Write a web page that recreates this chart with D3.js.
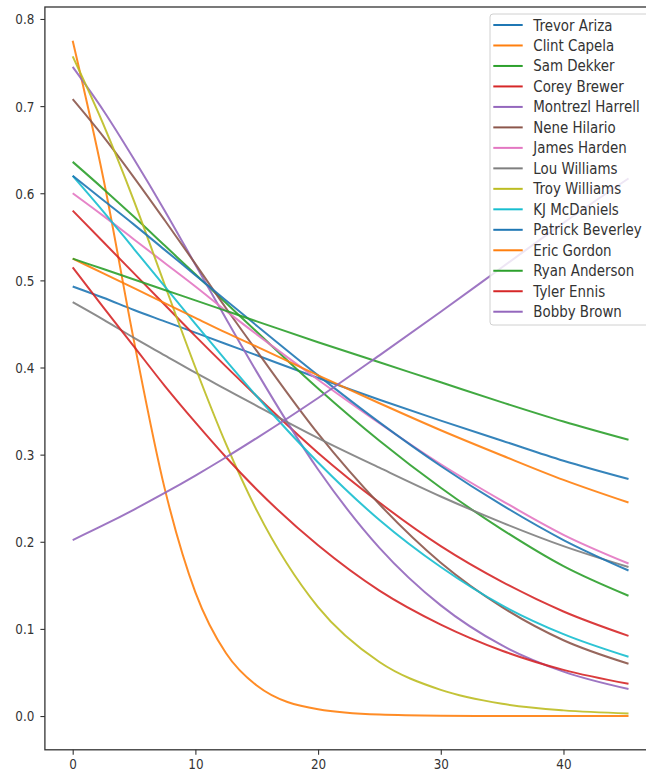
<!DOCTYPE html>
<html><head><meta charset="utf-8">
<script src="https://cdn.jsdelivr.net/npm/d3@7"></script>
<style>body{margin:0;background:#fff}svg{display:block}text{font-family:"DejaVu Sans",sans-serif}</style>
</head><body>
<svg id="c" width="646" height="773"></svg>
<script>
const xs = [0, 2.5, 5, 7.5, 10, 12.5, 15, 20, 25, 30, 35, 40, 45.3];
const players = ["Trevor Ariza","Clint Capela","Sam Dekker","Corey Brewer","Montrezl Harrell","Nene Hilario","James Harden","Lou Williams","Troy Williams","KJ McDaniels","Patrick Beverley","Eric Gordon","Ryan Anderson","Tyler Ennis","Bobby Brown"];
const trevorAriza     = [0.493,0.480,0.466,0.453,0.440,0.427,0.414,0.388,0.363,0.339,0.316,0.293,0.272];
const clintCapela     = [0.775,0.617,0.430,0.261,0.142,0.072,0.035,0.0078,0.0017,0.0004,0.0001,0.00002,0.0];
const samDekker       = [0.636,0.605,0.573,0.540,0.507,0.474,0.441,0.376,0.316,0.262,0.214,0.172,0.138];
const coreyBrewer     = [0.580,0.544,0.508,0.472,0.436,0.401,0.367,0.302,0.245,0.195,0.154,0.120,0.092];
const montrezlHarrell = [0.745,0.695,0.639,0.580,0.518,0.456,0.395,0.283,0.193,0.127,0.081,0.051,0.031];
const neneHilario     = [0.708,0.665,0.618,0.569,0.519,0.468,0.419,0.324,0.243,0.176,0.125,0.087,0.060];
const jamesHarden     = [0.600,0.574,0.547,0.520,0.493,0.465,0.438,0.386,0.336,0.289,0.247,0.208,0.175];
const louWilliams     = [0.475,0.455,0.434,0.414,0.394,0.375,0.356,0.319,0.285,0.252,0.222,0.195,0.171];
const troyWilliams    = [0.757,0.679,0.591,0.495,0.400,0.312,0.236,0.125,0.062,0.030,0.014,0.0065,0.003];
const kjMcDaniels     = [0.620,0.579,0.536,0.493,0.450,0.408,0.367,0.291,0.225,0.171,0.127,0.094,0.068];
const patrickBeverley = [0.620,0.592,0.564,0.535,0.506,0.477,0.448,0.391,0.337,0.287,0.242,0.202,0.167];
const ericGordon      = [0.525,0.508,0.491,0.474,0.457,0.440,0.424,0.391,0.359,0.328,0.299,0.271,0.245];
const ryanAnderson    = [0.525,0.513,0.501,0.489,0.477,0.465,0.453,0.429,0.406,0.383,0.360,0.338,0.317];
const tylerEnnis      = [0.515,0.469,0.424,0.379,0.337,0.297,0.260,0.196,0.144,0.105,0.075,0.053,0.037];
const bobbyBrown      = [0.202,0.219,0.237,0.256,0.276,0.297,0.319,0.365,0.414,0.464,0.515,0.566,0.617];
const seriesValues = [trevorAriza,clintCapela,samDekker,coreyBrewer,montrezlHarrell,neneHilario,jamesHarden,louWilliams,troyWilliams,kjMcDaniels,patrickBeverley,ericGordon,ryanAnderson,tylerEnnis,bobbyBrown];
const xTicks = [0, 10, 20, 30, 40];
const yTicks = [0.0, 0.1, 0.2, 0.3, 0.4, 0.5, 0.6, 0.7, 0.8];

const colors = ["#1f77b4","#ff7f0e","#2ca02c","#d62728","#9467bd","#8c564b","#e377c2","#7f7f7f","#bcbd22","#17becf"];
const svg = d3.select("#c");
const L = 44.9, R = 656.3, T = 7, B = 749.8;
const x = d3.scaleLinear().domain([-2.265, 47.565]).range([L, R]);
const y = d3.scaleLinear().domain([-0.03875, 0.81375]).range([B, T]);
const SY = 1.13; // vertical stretch of glyphs seen in the reference

svg.append("defs").append("clipPath").attr("id","clip").append("rect")
  .attr("x",L).attr("y",T).attr("width",R-L).attr("height",B-T);

const line = d3.line().x((d,i)=>x(xs[i])).y(d=>y(d)).curve(d3.curveMonotoneX);
const g = svg.append("g").attr("clip-path","url(#clip)");
seriesValues.forEach((vals,i)=>{
  g.append("path").datum(vals).attr("d",line).attr("fill","none")
   .attr("stroke",colors[i%10]).attr("stroke-width",2).attr("stroke-opacity",0.9);
});

// frame
svg.append("rect").attr("x",L).attr("y",T).attr("width",R-L).attr("height",B-T)
  .attr("fill","none").attr("stroke","#333").attr("stroke-width",1.3);

// axes
const xa = svg.append("g").attr("transform",`translate(0,${B})`)
  .call(d3.axisBottom(x).tickValues(xTicks).tickFormat(d3.format("d")).tickSize(5));
const ya = svg.append("g").attr("transform",`translate(${L},0)`)
  .call(d3.axisLeft(y).tickValues(yTicks).tickFormat(d3.format(".1f")).tickSize(4.5));
[xa,ya].forEach(a=>{
  a.select(".domain").remove();
  a.selectAll("line").attr("stroke","#333").attr("stroke-width",1.1);
  a.selectAll("text").attr("font-size",12).attr("fill","#333").attr("font-family","DejaVu Sans")
    .attr("x",0).attr("y",0).attr("dy",null);
});
xa.selectAll("text").attr("transform",`translate(0,19) scale(1,${SY})`);
ya.selectAll("text").attr("transform",`translate(-10.5,4.9) scale(1,${SY})`);

// legend
const lg = svg.append("g");
lg.append("rect").attr("x",490).attr("y",14).attr("width",170).attr("height",311).attr("rx",3)
  .attr("fill","#fff").attr("fill-opacity",0.82).attr("stroke","#d0d0d0");
players.forEach((p,i)=>{
  const yy = 25 + i*20.48;
  lg.append("line").attr("x1",493.3).attr("x2",522.7).attr("y1",yy).attr("y2",yy)
    .attr("stroke",colors[i%10]).attr("stroke-width",2);
  lg.append("text").attr("transform",`translate(533.3,${yy+5.5}) scale(1,${SY})`)
    .attr("font-size",13.4).attr("fill","#333").text(p);
});
</script>
</body></html>
